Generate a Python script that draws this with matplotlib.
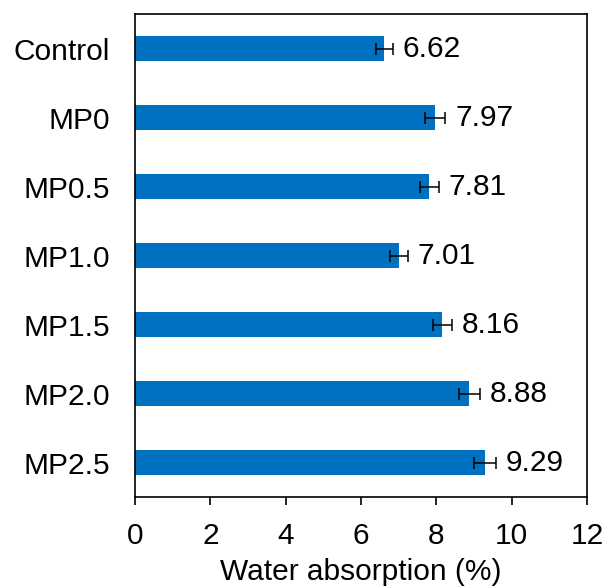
import numpy as np
import matplotlib.pyplot as plt

plt.rcParams['font.family'] = ['Liberation Sans', 'DejaVu Sans']

# sample data
samples = ['Control', 'MP0', 'MP0.5', 'MP1.0', 'MP1.5', 'MP2.0', 'MP2.5']
absorption = [6.62, 7.97, 7.81, 7.01, 8.16, 8.88, 9.29]
errors = [0.22, 0.27, 0.25, 0.24, 0.25, 0.28, 0.30]

fs = 21.5

fig = plt.figure(figsize=(6.04, 5.87), dpi=100)
ax = fig.add_axes([0.2235, 0.1533, 0.7484, 0.8228])

y = np.arange(len(samples))
ax.barh(y, absorption, height=0.35, color='#0070C0',
        xerr=errors, error_kw=dict(ecolor='black', elinewidth=1.1, capsize=4, capthick=1.1))

for yi, v, e in zip(y, absorption, errors):
    ax.annotate(f'{v:.2f}', xy=(v + e, yi), xytext=(7, 0), textcoords='offset points',
                ha='left', va='center', fontsize=fs)

ax.set_yticks(y)
ax.set_yticklabels(samples, fontsize=fs)
ax.tick_params(axis='y', length=0, pad=18)
ax.tick_params(axis='x', labelsize=fs, direction='out', length=6, width=1.2, pad=12)
ax.set_xlim(0, 12)
ax.set_xticks(np.arange(0, 13, 2))
ax.set_ylim(len(samples) - 0.5, -0.5)
ax.set_xlabel('Water absorption (%)', fontsize=fs, labelpad=6)
for s in ax.spines.values():
    s.set_linewidth(1.2)

fig.savefig('out.png', dpi=100)
